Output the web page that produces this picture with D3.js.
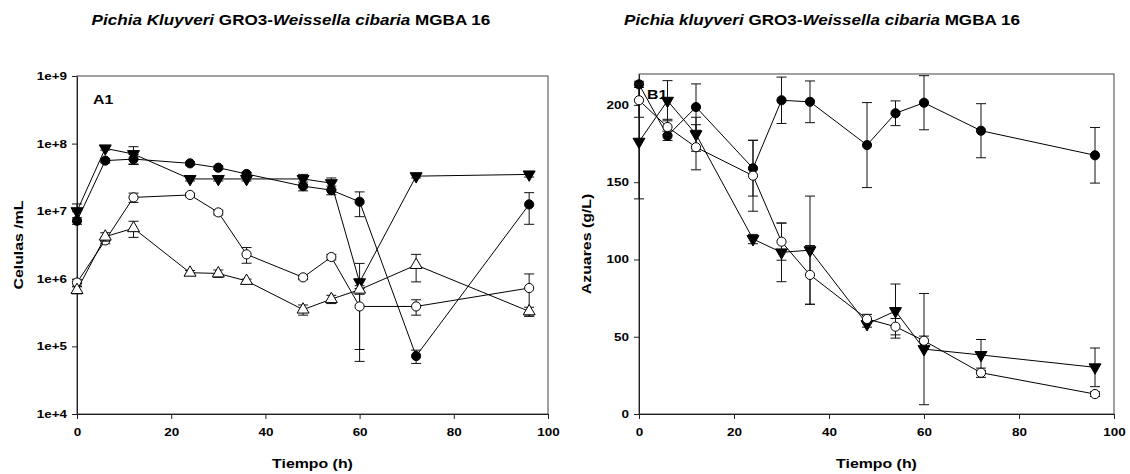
<!DOCTYPE html>
<html><head><meta charset="utf-8">
<script src="https://cdn.jsdelivr.net/npm/d3@7"></script>
<style>
body{margin:0;background:#fff;}
svg{display:block;font-family:Arial,"Liberation Sans",sans-serif;}
</style></head><body>
<svg id="c" width="1130" height="474"></svg>
<script>
const times = [0,6,12,24,30,36,48,54,60,72,96];

// Panel A1 (cells/mL, log)
const a_filledCircle = [7.2e6,5.6e7,5.9e7,5.1e7,4.4e7,3.55e7,2.35e7,2.05e7,1.38e7,7.2e4,1.26e7];
const a_filledCircleErr = [8e5,4e6,1e7,3e6,2.5e6,2e6,3.5e6,3e6,5.5e6,1.6e4,6.2e6];
const a_filledTri = [1.0e7,8.5e7,7.0e7,3.0e7,3.0e7,3.0e7,3.0e7,2.6e7,8.9e5,3.3e7,3.5e7];
const a_filledTriErr = [2.8e6,5e6,2e7,2e6,2e6,2e6,5e6,5e6,8e5,2e6,3e6];
const a_openCircle = [8.8e5,3.7e6,1.6e7,1.74e7,9.6e6,2.3e6,1.05e6,2.1e6,3.9e5,3.9e5,7.3e5];
const a_openCircleErr = [1e5,4e5,2.5e6,1e6,8e5,6e5,8e4,2e5,3.3e5,1e5,4.5e5];
const a_openTri = [6.8e5,4.2e6,5.6e6,1.23e6,1.2e6,9.3e5,3.5e5,5.0e5,6.9e5,1.6e6,3.3e5];
const a_openTriErr = [8e4,6e5,1.5e6,1e5,1.5e5,6e4,6e4,7e4,1e5,7e5,5e4];
const aTicks = [1e4,1e5,1e6,1e7,1e8,1e9];
const aTickLabels = ["1e+4","1e+5","1e+6","1e+7","1e+8","1e+9"];

// Panel B1 (Azuares g/L)
const b_filledCircle = [213.3,180,198.6,159,203,202,174,194.6,201.4,183.3,167.4];
const b_filledCircleErr = [2,3,15,18,15,13.5,27.5,8,17.5,17.5,18];
const b_filledTri = [176.2,202.7,181,113.2,104.6,106,58.2,66.6,42,38.2,30.2];
const b_filledTriErr = [37,13,11,3,19,35,2,17.5,36,10,12.5];
const b_openCircle = [203,185.7,172.6,154.2,111.5,90,61.5,56.5,47.4,26.7,12.9];
const b_openCircleErr = [11,5,14.6,23,12,19,3,5.3,3,3,1.5];
const bTicks = [0,50,100,150,200];

const xTicks = [0,20,40,60,80,100];

const svg = d3.select("#c");
const font = 'Arial,"Liberation Sans",sans-serif';
const STRETCH = 1.22;

function drawPanel(cfg){
  const g = svg.append("g");
  const x = d3.scaleLinear().domain([0,100]).range([cfg.x0,cfg.x1]);
  const y = cfg.y;
  g.append("rect").attr("x",cfg.x0).attr("y",cfg.y1).attr("width",cfg.x1-cfg.x0).attr("height",cfg.y0-cfg.y1)
    .attr("fill","none").attr("stroke","#444").attr("stroke-width",1);
  const xa = g.append("g").attr("transform",`translate(0,${cfg.y0})`)
    .call(d3.axisBottom(x).tickValues(xTicks).tickSize(5).tickSizeOuter(0).tickPadding(9));
  const ya = g.append("g").attr("transform",`translate(${cfg.x0},0)`)
    .call(d3.axisLeft(y).tickValues(cfg.yTicks).tickFormat((d,i)=>cfg.yLabels[i]).tickSize(5).tickSizeOuter(0).tickPadding(5));
  [xa,ya].forEach(a=>{
    a.select(".domain").attr("stroke","#222");
    a.selectAll(".tick line").attr("stroke","#222");
    a.selectAll("text").attr("font-family",font).attr("font-weight","bold").attr("font-size",11).attr("fill","#000");
  });
  cfg.series.forEach(s=>{
    const pts = times.map((t,i)=>({t, v:s.v[i], e:s.e[i]}));
    const line = d3.line().x(d=>x(d.t)).y(d=>y(d.v));
    g.append("path").datum(pts).attr("d",line).attr("fill","none").attr("stroke","#000").attr("stroke-width",1);
    const eb = g.append("g");
    pts.forEach(d=>{
      const lo = Math.max(d.v-d.e, cfg.minV), hi = d.v+d.e;
      const cx = x(d.t);
      eb.append("line").attr("x1",cx).attr("x2",cx).attr("y1",y(hi)).attr("y2",y(lo)).attr("stroke","#111").attr("stroke-width",1);
      [hi,lo].forEach(vv=>{
        eb.append("line").attr("x1",cx-5).attr("x2",cx+5).attr("y1",y(vv)).attr("y2",y(vv)).attr("stroke","#111").attr("stroke-width",1);
      });
    });
    const sym = s.shape==="circle" ? d3.symbol().type(d3.symbolCircle).size(66)
                                   : d3.symbol().type(d3.symbolTriangle).size(62);
    g.selectAll(null).data(pts).join("path")
      .attr("d",sym)
      .attr("transform",d=>`translate(${x(d.t)},${y(d.v)}) rotate(${s.down?180:0})`)
      .attr("fill",s.filled?"#000":"#fff").attr("stroke","#000").attr("stroke-width",1);
  });
  g.append("text").attr("x",cfg.panelLabel[1]).attr("y",cfg.panelLabel[2]).text(cfg.panelLabel[0])
    .attr("font-family",font).attr("font-weight","bold").attr("font-size",13);
  g.append("text").attr("x",(cfg.x0+cfg.x1)/2).attr("y",468).attr("text-anchor","middle").text("Tiempo (h)")
    .attr("font-family",font).attr("font-weight","bold").attr("font-size",13);
  g.append("text").attr("transform",`translate(${cfg.yLabelX},${(cfg.y0+cfg.y1)/2}) rotate(-90)`)
    .attr("text-anchor","middle").text(cfg.yTitle)
    .attr("font-family",font).attr("font-weight","bold").attr("font-size",13);
  const t = g.append("text").attr("x",cfg.titleX).attr("y",25).attr("text-anchor","middle")
    .attr("font-family",font).attr("font-weight","bold").attr("font-size",14);
  cfg.title.forEach(p=>t.append("tspan").text(p[0]).attr("font-style",p[1]?"italic":"normal"));
}

drawPanel({
  x0:77,x1:548,y0:414,y1:76,
  y: d3.scaleLog().domain([1e4,1e9]).range([414,76]),
  yTicks:aTicks, yLabels:aTickLabels, minV:1e4,
  series:[
    {v:a_filledCircle,e:a_filledCircleErr,shape:"circle",filled:true},
    {v:a_filledTri,e:a_filledTriErr,shape:"tri",filled:true,down:true},
    {v:a_openCircle,e:a_openCircleErr,shape:"circle",filled:false},
    {v:a_openTri,e:a_openTriErr,shape:"tri",filled:false,down:false}
  ],
  panelLabel:["A1",93,104], yTitle:"Celulas /mL", yLabelX:23,
  titleX:291, title:[["Pichia Kluyveri",true],[" GRO3-",false],["Weissella cibaria",true],[" MGBA 16",false]]
});

drawPanel({
  x0:639,x1:1114,y0:414,y1:74,
  y: d3.scaleLinear().domain([0,220]).range([414,74]),
  yTicks:bTicks, yLabels:bTicks.map(String), minV:0,
  series:[
    {v:b_filledCircle,e:b_filledCircleErr,shape:"circle",filled:true},
    {v:b_filledTri,e:b_filledTriErr,shape:"tri",filled:true,down:true},
    {v:b_openCircle,e:b_openCircleErr,shape:"circle",filled:false}
  ],
  panelLabel:["B1",647,99], yTitle:"Azuares (g/L)", yLabelX:591,
  titleX:822, title:[["Pichia kluyveri",true],[" GRO3-",false],["Weissella cibaria",true],[" MGBA 16",false]]
});

// widen glyphs to match the reference's wider rendering
svg.selectAll("text").each(function(){
  const len = this.getComputedTextLength();
  d3.select(this).attr("textLength",len*STRETCH).attr("lengthAdjust","spacingAndGlyphs");
});
</script></body></html>
